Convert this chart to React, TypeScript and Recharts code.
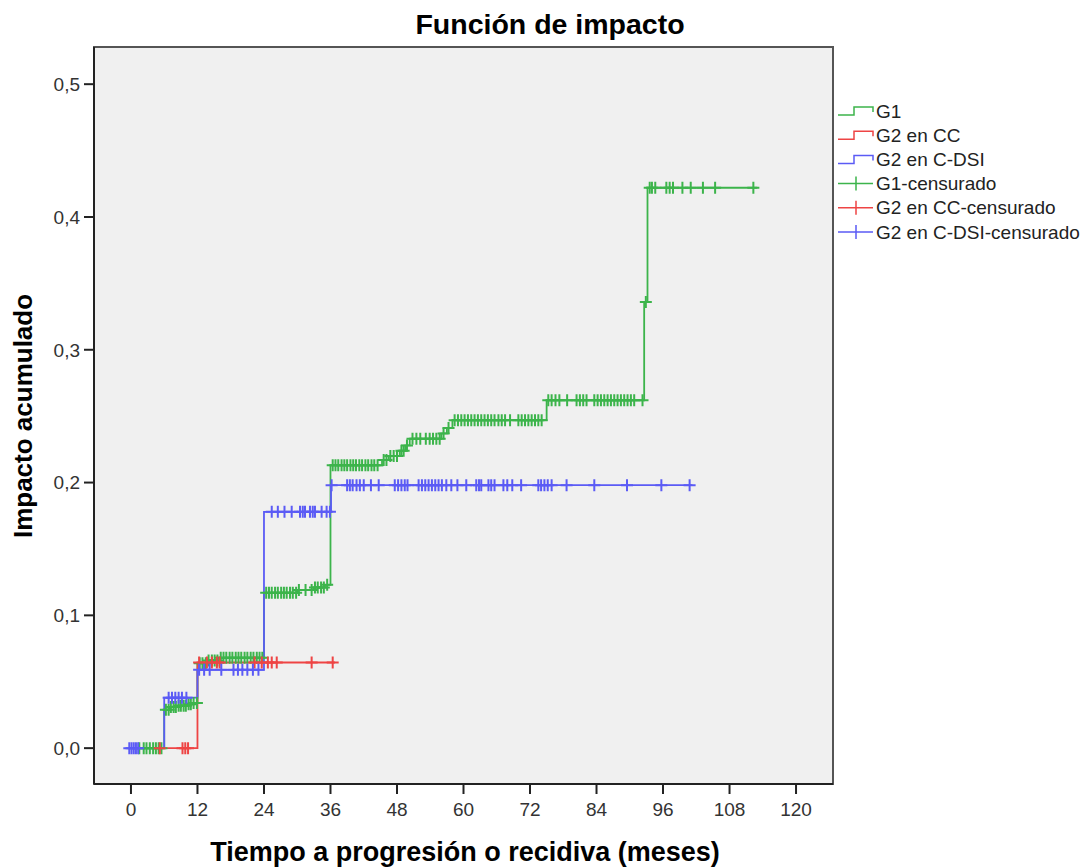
import {
  CartesianGrid,
  ComposedChart,
  Line,
  ReferenceArea,
  Scatter,
  XAxis,
  YAxis
} from "recharts";

// Step functions: time of each jump and cumulative impact after it
const G1_TIMES = [0, 6, 7, 8.5, 10, 11, 12, 14, 16, 24, 30, 33, 35, 36, 45.3, 46.5, 48.5, 49.5, 50.3, 56, 57, 58, 75, 92.6, 93.2];
const G1_VALUES = [0, 0.029, 0.031, 0.032, 0.033, 0.034, 0.064, 0.066, 0.068, 0.117, 0.119, 0.121, 0.123, 0.213, 0.217, 0.22, 0.224, 0.228, 0.233, 0.237, 0.241, 0.247, 0.262, 0.336, 0.422];
const G1_END = 113;

const CC_TIMES = [0, 12];
const CC_VALUES = [0, 0.0645];
const CC_END = 36.8;

const DSI_TIMES = [0, 6, 12, 24, 36.1];
const DSI_VALUES = [0, 0.038, 0.059, 0.178, 0.198];
const DSI_END = 101.3;

// Censored observations (months)
const G1_CENSORED = [
  1.5, 2.3, 2.8, 3.4, 4.0, 4.5, 5.0, 5.5,
  6.3, 6.8, 7.2, 7.7, 8.1, 8.6, 9.0, 9.5, 9.9, 10.4, 10.8, 11.3, 11.9,
  12.4, 12.9, 13.5, 14.0, 14.6, 15.1, 15.6, 16.2, 16.7, 17.2, 17.8, 18.3, 18.9, 19.4, 19.9, 20.5, 21.0, 21.6, 22.1, 22.7, 23.2, 23.7,
  24.4, 24.9, 25.4, 26.0, 26.5, 27.1, 27.6, 28.1, 28.7, 29.2, 29.8, 30.3, 31.5, 32.6, 33.2, 33.7, 34.3, 34.8, 35.4,
  36.4, 36.9, 37.4, 38.0, 38.5, 39.0, 39.6, 40.1, 40.6, 41.2, 41.7, 42.3, 42.8, 43.4, 43.9, 44.5,
  45.6, 46.1, 46.8, 47.4, 48.0, 48.8, 49.2, 49.8, 50.8, 51.5, 52.2, 53.2, 53.9, 54.5, 55.1, 55.7, 56.4, 57.3,
  58.4, 59.0, 59.6, 60.2, 60.8, 61.4, 62.0, 62.6, 63.2, 63.8, 64.4, 65.0, 65.6, 66.3, 66.9, 67.5, 68.4, 69.9, 70.5, 71.1, 71.7, 72.3, 72.9, 73.5, 74.1,
  75.3, 75.9, 76.6, 77.3, 78.7, 80.4, 81.0, 81.6, 82.2, 83.6, 84.2, 84.8, 85.4, 86.0, 86.6, 87.2, 87.8, 88.4, 89.0, 89.6, 90.2, 90.8, 92.3,
  92.9,
  93.6, 94.0, 94.6, 96.6, 97.2, 97.8, 99.5, 101.0, 103.2, 105.4, 112.3
];
const CC_CENSORED = [5.2, 9.3, 9.8, 10.3, 12.3, 13.7, 14.6, 15.5, 16.0, 22.3, 23.6, 24.7, 25.4, 26.3, 32.6, 36.4];
const DSI_CENSORED = [
  -0.3, 0.1, 0.5, 0.9, 1.3,
  6.8, 7.4, 8.0, 8.6, 9.2, 10.0,
  12.3, 13.2, 14.2, 16.3, 18.5, 19.3, 20.1, 21.0, 22.0, 23.0,
  25.4, 26.5, 27.7, 29.0, 30.5, 31.0, 31.4, 32.3, 32.8, 33.2, 34.4, 35.3, 35.9,
  36.2, 39.0, 39.5, 40.0, 40.7, 41.3, 42.0, 43.3, 44.7, 47.6, 48.2, 48.8, 49.4, 49.9,
  51.9, 52.5, 53.1, 53.7, 54.3, 54.9, 55.5, 56.1, 56.9, 57.8, 58.9, 60.5, 62.3, 62.8, 63.2,
  64.5, 65.0, 65.6, 67.2, 67.9, 68.8, 70.4, 73.5, 74.0, 74.6, 75.2, 75.9, 78.6, 83.6, 89.5, 95.7, 100.8
];

const X_TICKS = [0, 12, 24, 36, 48, 60, 72, 84, 96, 108, 120];
const Y_TICKS = [0, 0.1, 0.2, 0.3, 0.4, 0.5];

const GREEN = "#3cb44b";
const RED = "#ee4444";
const BLUE = "#5b5bf5";
const FONT = "'Liberation Sans', Arial, sans-serif";

const X_DOMAIN: [number, number] = [-6.67, 126.67];
const Y_DOMAIN: [number, number] = [-0.027, 0.528];

const stepData = (times: number[], values: number[], end: number) => [
  ...times.map((t, i) => ({ t, y: values[i] })),
  { t: end, y: values[values.length - 1] }
];

const valueAt = (times: number[], values: number[], t: number) => {
  let v = values[0];
  times.forEach((s, i) => {
    if (t >= s) v = values[i];
  });
  return v;
};

const censorData = (censored: number[], times: number[], values: number[]) =>
  censored.map((t) => ({ t, y: valueAt(times, values, t) }));

const crossShape = (color: string) => (props: any) => {
  const { cx, cy } = props;
  return (
    <path
      d={`M${cx - 6},${cy}H${cx + 6}M${cx},${cy - 6}V${cy + 6}`}
      fill="none"
      stroke={color}
      strokeWidth={2}
    />
  );
};

const LEGEND_ITEMS = [
  { label: "G1", color: GREEN, step: true },
  { label: "G2 en CC", color: RED, step: true },
  { label: "G2 en C-DSI", color: BLUE, step: true },
  { label: "G1-censurado", color: GREEN, step: false },
  { label: "G2 en CC-censurado", color: RED, step: false },
  { label: "G2 en C-DSI-censurado", color: BLUE, step: false }
];

const ChartLegend = () => (
  <svg
    height={150}
    style={{ left: 834, position: "absolute", top: 95 }}
    width={256}
  >
    {LEGEND_ITEMS.map((item, i) => {
      const y = 16 + i * 24.2;
      return (
        <g key={item.label}>
          {item.step ? (
            <path
              d={`M4,${y + 4}H20V${y - 4}H39V${y + 1}`}
              fill="none"
              stroke={item.color}
              strokeWidth={1.5}
            />
          ) : (
            <path
              d={`M4,${y}H39M22,${y - 7}V${y + 7}`}
              fill="none"
              stroke={item.color}
              strokeWidth={1.5}
            />
          )}
          <text
            dominantBaseline="central"
            fill="#222"
            fontFamily={FONT}
            fontSize={19}
            x={42}
            y={y}
          >
            {item.label}
          </text>
        </g>
      );
    })}
  </svg>
);

export default function App() {
  const axisTick = { fill: "#333", fontFamily: FONT, fontSize: 19 };
  return (
    <div
      style={{
        background: "#fff",
        height: 868,
        left: 0,
        position: "absolute",
        top: 0,
        width: 1090
      }}
    >
      <div
        style={{
          fontFamily: FONT,
          fontSize: 28.5,
          fontWeight: "bold",
          left: 0,
          lineHeight: "30px",
          position: "absolute",
          textAlign: "center",
          top: 9,
          width: 1100
        }}
      >
        Función de impacto
      </div>
      <ComposedChart
        height={868}
        margin={{ bottom: 44, left: 34, right: 257, top: 47 }}
        width={1090}
      >
        <CartesianGrid fill="#f0f0f0" horizontal={false} vertical={false} />
        <ReferenceArea
          fill="none"
          ifOverflow="visible"
          stroke="#555"
          strokeWidth={2}
          x1={X_DOMAIN[0]}
          x2={X_DOMAIN[1]}
          y1={Y_DOMAIN[0]}
          y2={Y_DOMAIN[1]}
        />
        <XAxis
          allowDataOverflow
          axisLine={{ stroke: "#222", strokeWidth: 2 }}
          dataKey="t"
          domain={X_DOMAIN}
          height={40}
          tick={axisTick}
          tickLine={{ stroke: "#222", strokeWidth: 2 }}
          tickMargin={9}
          tickSize={10}
          ticks={X_TICKS}
          type="number"
        />
        <YAxis
          allowDataOverflow
          axisLine={{ stroke: "#222", strokeWidth: 2 }}
          dataKey="y"
          domain={Y_DOMAIN}
          tick={axisTick}
          tickFormatter={(v: number) => v.toFixed(1).replace(".", ",")}
          tickLine={{ stroke: "#222", strokeWidth: 2 }}
          tickMargin={4}
          tickSize={10}
          ticks={Y_TICKS}
          type="number"
          width={60}
        />
        <Line
          activeDot={false}
          data={stepData(G1_TIMES, G1_VALUES, G1_END)}
          dataKey="y"
          dot={false}
          isAnimationActive={false}
          stroke={GREEN}
          strokeWidth={1.8}
          type="stepAfter"
        />
        <Line
          activeDot={false}
          data={stepData(CC_TIMES, CC_VALUES, CC_END)}
          dataKey="y"
          dot={false}
          isAnimationActive={false}
          stroke={RED}
          strokeWidth={1.8}
          type="stepAfter"
        />
        <Line
          activeDot={false}
          data={stepData(DSI_TIMES, DSI_VALUES, DSI_END)}
          dataKey="y"
          dot={false}
          isAnimationActive={false}
          stroke={BLUE}
          strokeWidth={1.8}
          type="stepAfter"
        />
        <Scatter
          data={censorData(G1_CENSORED, G1_TIMES, G1_VALUES)}
          dataKey="y"
          isAnimationActive={false}
          shape={crossShape(GREEN)}
        />
        <Scatter
          data={censorData(CC_CENSORED, CC_TIMES, CC_VALUES)}
          dataKey="y"
          isAnimationActive={false}
          shape={crossShape(RED)}
        />
        <Scatter
          data={censorData(DSI_CENSORED, DSI_TIMES, DSI_VALUES)}
          dataKey="y"
          isAnimationActive={false}
          shape={crossShape(BLUE)}
        />
      </ComposedChart>
      <div
        style={{
          fontFamily: FONT,
          fontSize: 26,
          fontWeight: "bold",
          left: 23 - 300,
          lineHeight: "28px",
          position: "absolute",
          textAlign: "center",
          top: 416 - 14,
          transform: "rotate(-90deg)",
          width: 600
        }}
      >
        Impacto acumulado
      </div>
      <div
        style={{
          fontFamily: FONT,
          fontSize: 27,
          fontWeight: "bold",
          left: 465 - 400,
          lineHeight: "28px",
          position: "absolute",
          textAlign: "center",
          top: 838,
          width: 800
        }}
      >
        Tiempo a progresión o recidiva (meses)
      </div>
      <ChartLegend />
    </div>
  );
}
